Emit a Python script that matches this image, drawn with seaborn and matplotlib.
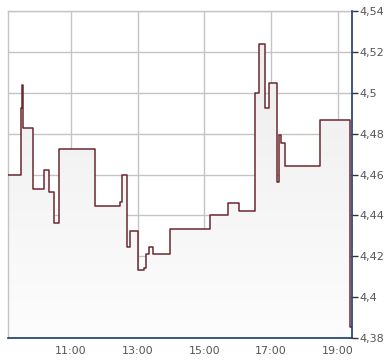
import matplotlib
matplotlib.use("Agg")
import matplotlib.pyplot as plt
import matplotlib.ticker as mticker
import numpy as np
import pandas as pd
import seaborn as sns

times = ["09:07", "09:30", "09:31", "09:34", "09:52", "10:12", "10:21", "10:30", "10:39",
         "11:44", "12:29", "12:31", "12:40", "12:47", "13:01", "13:12", "13:15", "13:20",
         "13:28", "13:59", "15:11", "15:42", "16:03", "16:32", "16:39", "16:50", "16:57",
         "17:11", "17:15", "17:18", "17:25", "18:29", "19:23", "19:26"]
prices = [4.460, 4.4925, 4.504, 4.483, 4.453, 4.4625, 4.4515, 4.4365, 4.4725,
          4.4445, 4.4465, 4.460, 4.4245, 4.4325, 4.4135, 4.4145, 4.421, 4.4245,
          4.421, 4.4335, 4.440, 4.446, 4.442, 4.500, 4.524, 4.4925, 4.505,
          4.4565, 4.4795, 4.4755, 4.464, 4.487, 4.3855, 4.3855]
x_ticks = [11, 13, 15, 17, 19]
x_tick_labels = ["11:00", "13:00", "15:00", "17:00", "19:00"]
y_ticks = [4.38, 4.40, 4.42, 4.44, 4.46, 4.48, 4.50, 4.52, 4.54]

def to_hours(s):
    h, m = s.split(":")
    return int(h) + int(m) / 60.0

df = pd.DataFrame({"t": [to_hours(s) for s in times], "price": prices})

sns.set_style("white")
plt.rcParams["font.family"] = ["DejaVu Sans"]

fig = plt.figure(figsize=(3.9, 3.64), dpi=100)
ax = fig.add_axes([8.3 / 390, 1 - 338 / 364, (352 - 8.3) / 390, (338 - 11.3) / 364])

ymin, ymax = 4.38, 4.54
xmin, xmax = df["t"].iloc[0], df["t"].iloc[-1]

# gradient fill under the step curve
poly = ax.fill_between(df["t"], df["price"], ymin, step="post", color="none", lw=0)
grad = np.linspace(0, 1, 256).reshape(-1, 1)
from matplotlib.colors import LinearSegmentedColormap
cmap = LinearSegmentedColormap.from_list("g", ["#fdfdfd", "#ebebeb"])
im = ax.imshow(grad, cmap=cmap, aspect="auto", origin="lower",
               extent=[xmin, xmax, ymin, ymax], zorder=1)
path = poly.get_paths()[0]
im.set_clip_path(path, transform=ax.transData)

sns.lineplot(data=df, x="t", y="price", ax=ax, drawstyle="steps-post",
             color="#6b2830", lw=1.1, zorder=3)

ax.set_xlim(xmin, xmax)
ax.set_ylim(ymin, ymax)
ax.set_xticks(x_ticks)
ax.set_xticklabels(x_tick_labels)
ax.set_yticks(y_ticks)
ax.yaxis.set_major_formatter(mticker.FuncFormatter(
    lambda v, p: f"{v:.2f}".rstrip("0").rstrip(".").replace(".", ",")))
ax.yaxis.tick_right()
ax.set_xlabel("")
ax.set_ylabel("")

ax.grid(True, color="#c4c4c4", lw=1.0, zorder=0)
ax.set_axisbelow(True)

for side in ["left", "top"]:
    ax.spines[side].set_color("#c4c4c4")
    ax.spines[side].set_linewidth(1.0)
for side in ["bottom", "right"]:
    ax.spines[side].set_color("#1c3a6a")
    ax.spines[side].set_linewidth(1.2)
    ax.spines[side].set_zorder(5)

ax.tick_params(axis="x", direction="out", length=4, width=1, color="#333333",
               labelsize=8, labelcolor="#555555", pad=2)
ax.tick_params(axis="y", direction="out", length=4, width=1, color="#333333",
               labelsize=8, labelcolor="#555555", pad=1)

fig.savefig("out.png", dpi=100)
